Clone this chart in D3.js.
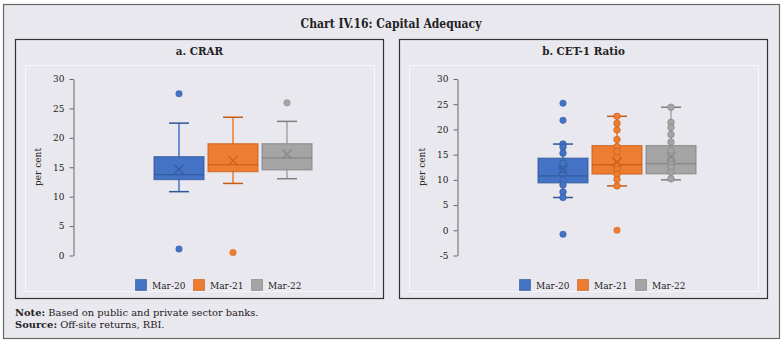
<!DOCTYPE html>
<html>
<head>
<meta charset="utf-8">
<script src="https://cdn.jsdelivr.net/npm/d3@7"></script>
<style>
  html, body { margin: 0; padding: 0; background: #ffffff; }
  svg { display: block; }
  text { font-family: "DejaVu Serif", serif; fill: #222; }
  .ttl { font-family: "DejaVu Serif Condensed", "DejaVu Serif", serif; font-weight: bold; }
</style>
</head>
<body>
<svg id="chart" width="783" height="344"></svg>
<script>
// ---- data ----
const series = ["Mar-20", "Mar-21", "Mar-22"];
const seriesFill = ["#4472C4", "#ED7D31", "#A5A5A5"];
const seriesDark = ["#2F5597", "#C65B16", "#7F7F7F"];

// a. CRAR (per cent)
const crarLow    = [10.85, 12.25, 13.05];
const crarQ1     = [12.9, 14.25, 14.55];
const crarMedian = [13.75, 15.45, 16.6];
const crarQ3     = [16.8, 19.0, 19.0];
const crarHigh   = [22.5, 23.5, 22.8];
const crarMean   = [14.65, 16.1, 17.2];
const crarOutliers = [[27.5, 1.1], [0.5], [25.95]];
const crarPoints   = [[], [], []];
const crarTicks  = [0, 5, 10, 15, 20, 25, 30];

// b. CET-1 Ratio (per cent)
const cetLow    = [6.5, 8.8, 10.0];
const cetQ1     = [9.4, 11.15, 11.2];
const cetMedian = [10.8, 13.0, 13.2];
const cetQ3     = [14.3, 16.8, 16.8];
const cetHigh   = [17.1, 22.6, 24.4];
const cetMean   = [12.0, 13.5, 14.5];
const cetOutliers = [[25.2, 21.8, -0.8], [0.0], []];
const cetPoints = [
  [17.1, 16.5, 15.3, 13.3, 12.0, 10.0, 9.0, 7.6, 6.5],
  [22.6, 21.2, 19.9, 18.0, 16.6, 15.6, 14.4, 13.0, 12.0, 11.1, 10.1, 8.8],
  [24.4, 21.4, 20.4, 19.0, 17.5, 15.9, 14.2, 13.1, 12.5, 11.5, 10.2]
];
const cetTicks  = [-5, 0, 5, 10, 15, 20, 25, 30];

const panels = [
  { left: 15, title: "a. CRAR", domain: [0, 30], ticks: crarTicks,
    low: crarLow, q1: crarQ1, med: crarMedian, q3: crarQ3, high: crarHigh,
    mean: crarMean, outliers: crarOutliers, points: crarPoints },
  { left: 399, title: "b. CET-1 Ratio", domain: [-5, 30], ticks: cetTicks,
    low: cetLow, q1: cetQ1, med: cetMedian, q3: cetQ3, high: cetHigh,
    mean: cetMean, outliers: cetOutliers, points: cetPoints }
];

// ---- layout ----
const svg = d3.select("#chart");
const bg = "#EAE8EF";

svg.append("rect").attr("x", 3.5).attr("y", 4.5).attr("width", 776).attr("height", 334)
  .attr("fill", bg).attr("stroke", "#666").attr("stroke-width", 1.2);

svg.append("text").attr("class", "ttl").attr("x", 391).attr("y", 28)
  .attr("text-anchor", "middle").style("font-size", "12px")
  .text("Chart IV.16: Capital Adequacy");

const panelW = 368, panelTop = 39, panelH = 259;
const yTop = 79, yBottom = 255.5;

panels.forEach(p => {
  const g = svg.append("g").attr("transform", `translate(${p.left},0)`);

  g.append("rect").attr("x", 0.5).attr("y", panelTop + 0.5)
    .attr("width", panelW).attr("height", panelH)
    .attr("fill", bg).attr("stroke", "#333").attr("stroke-width", 1.2);

  // plot area outline
  g.append("rect").attr("x", 10.5).attr("y", 65.5).attr("width", 349).attr("height", 226)
    .attr("fill", "none").attr("stroke", "#F6F5F9").attr("stroke-width", 1);

  g.append("text").attr("class", "ttl").attr("x", panelW / 2 + 0.5).attr("y", 55)
    .attr("text-anchor", "middle").style("font-size", "11.5px").text(p.title);

  const y = d3.scaleLinear().domain(p.domain).range([yBottom, yTop]);
  const x = d3.scaleBand().domain(series).range([137, 299])
    .paddingInner(0.074).paddingOuter(0.037);
  const bw = x.bandwidth();

  // y axis (plain hyphen for negative labels)
  const axisX = 58.5;
  const ax = g.append("g").attr("transform", `translate(${axisX},0)`)
    .call(d3.axisLeft(y).tickValues(p.ticks).tickFormat(d => String(d))
      .tickSize(4).tickSizeOuter(0).tickPadding(5));
  ax.select(".domain").attr("stroke", "#666");
  ax.selectAll(".tick line").attr("stroke", "#666");
  ax.selectAll(".tick text").style("font-family", "'DejaVu Serif', serif")
    .style("font-size", "9px").attr("fill", "#222");

  g.append("text").attr("transform", `translate(26,167) rotate(-90)`)
    .attr("text-anchor", "middle").style("font-size", "9px").text("per cent");

  // boxes
  series.forEach((s, i) => {
    const cx = x(s) + bw / 2;
    const fill = seriesFill[i], dark = seriesDark[i];
    const bx = g.append("g");
    const capW = 20;
    // whiskers
    bx.append("line").attr("x1", cx).attr("x2", cx)
      .attr("y1", y(p.high[i])).attr("y2", y(p.q3[i])).attr("stroke", fill).attr("stroke-width", 1.5);
    bx.append("line").attr("x1", cx).attr("x2", cx)
      .attr("y1", y(p.q1[i])).attr("y2", y(p.low[i])).attr("stroke", fill).attr("stroke-width", 1.5);
    [p.high[i], p.low[i]].forEach(v => {
      bx.append("line").attr("x1", cx - capW / 2).attr("x2", cx + capW / 2)
        .attr("y1", y(v)).attr("y2", y(v)).attr("stroke", dark).attr("stroke-width", 1.5);
    });
    // box
    bx.append("rect").attr("x", x(s)).attr("y", y(p.q3[i]))
      .attr("width", bw).attr("height", y(p.q1[i]) - y(p.q3[i]))
      .attr("fill", fill).attr("stroke", dark).attr("stroke-opacity", 0.7).attr("stroke-width", 1.2);
    // median
    bx.append("line").attr("x1", x(s)).attr("x2", x(s) + bw)
      .attr("y1", y(p.med[i])).attr("y2", y(p.med[i]))
      .attr("stroke", dark).attr("stroke-opacity", 0.8).attr("stroke-width", 1.3);
    // inner points
    p.points[i].forEach(v => {
      bx.append("circle").attr("cx", cx).attr("cy", y(v)).attr("r", 3.3)
        .attr("fill", fill).attr("stroke", dark).attr("stroke-opacity", 0.6).attr("stroke-width", 1);
    });
    // mean marker
    const m = y(p.mean[i]), k = 4.5;
    bx.append("path")
      .attr("d", `M${cx - k},${m - k}L${cx + k},${m + k}M${cx - k},${m + k}L${cx + k},${m - k}`)
      .attr("stroke", dark).attr("stroke-opacity", 0.75).attr("stroke-width", 1.3).attr("fill", "none");
    // outliers
    p.outliers[i].forEach(v => {
      bx.append("circle").attr("cx", cx).attr("cy", y(v)).attr("r", 3.3)
        .attr("fill", fill).attr("stroke", dark).attr("stroke-opacity", 0.4).attr("stroke-width", 0.8);
    });
  });

  // legend
  const legX = [120, 178, 236];
  series.forEach((s, i) => {
    g.append("rect").attr("x", legX[i] + 0.5).attr("y", 279.5).attr("width", 11).attr("height", 11)
      .attr("fill", seriesFill[i]).attr("stroke", seriesDark[i]).attr("stroke-opacity", 0.6);
    g.append("text").attr("x", legX[i] + 17).attr("y", 288.5)
      .style("font-size", "9px").text(s);
  });
});

// notes
const notes = svg.append("g").style("font-size", "9.9px");
const n1 = notes.append("text").attr("x", 15).attr("y", 316);
n1.append("tspan").style("font-weight", "bold").text("Note:");
n1.append("tspan").text(" Based on public and private sector banks.");
const n2 = notes.append("text").attr("x", 15).attr("y", 328);
n2.append("tspan").style("font-weight", "bold").text("Source:");
n2.append("tspan").text(" Off-site returns, RBI.");
</script>
</body>
</html>
